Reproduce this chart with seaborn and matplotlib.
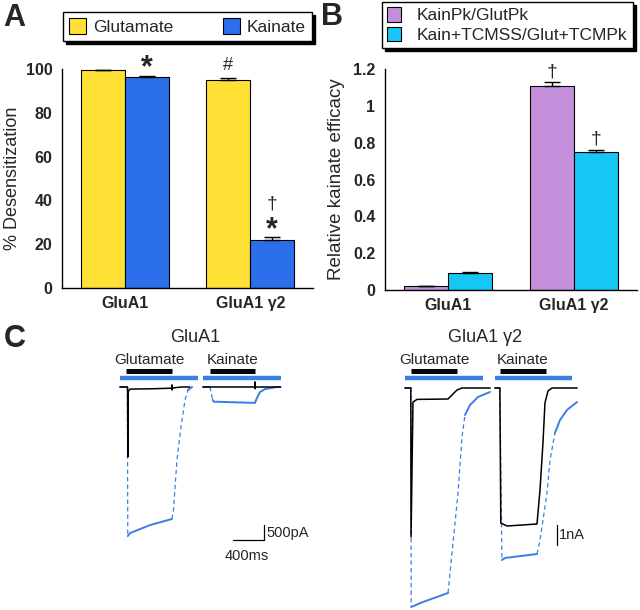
import numpy as np
import pandas as pd
import matplotlib
matplotlib.use("Agg")
import matplotlib.pyplot as plt
import seaborn as sns

# ---- panel A: % desensitization ----
groups = ["GluA1", "GluA1 γ2"]
agonists = ["Glutamate", "Kainate"]
desens_glut = [99.5, 95.0]
desens_glut_err = [0.2, 0.8]
desens_kain = [96.4, 22.0]
desens_kain_err = [0.4, 1.5]

# ---- panel B: relative kainate efficacy ----
ratios = ["KainPk/GlutPk", "Kain+TCMSS/Glut+TCMPk"]
eff_peak = [0.02, 1.105]
eff_peak_err = [0.004, 0.025]
eff_ss = [0.095, 0.75]
eff_ss_err = [0.004, 0.01]

# ---- panel C: current traces (time ms, current pA) ----
# GluA1, glutamate sweep
a1_glu_t_k = [0, 98, 101, 106, 130, 400, 668, 670, 672, 674, 720, 800, 900]
a1_glu_i_k = [0, 0, -2330, -150, -70, -60, -40, 70, -100, -40, -20, 0, 0]
a1_glu_t_b = [0, 95, 100, 130, 390, 670, 690, 735, 787, 839, 877, 930]
a1_glu_i_b = [0, 0, -4970, -4870, -4600, -4400, -4100, -2430, -1330, -430, -100, 0]
# GluA1, kainate sweep
a1_kai_t_k = [0, 668, 670, 672, 674, 1000]
a1_kai_i_k = [0, 0, 170, -60, 0, 0]
a1_kai_t_b = [0, 90, 125, 140, 670, 695, 735, 800, 950, 1000]
a1_kai_i_b = [0, 0, -430, -490, -530, -370, -170, -70, 0, 0]
# GluA1 g2, glutamate sweep
g2_glu_t_k = [0, 75, 78, 103, 155, 555, 606, 671, 735, 1100]
g2_glu_i_k = [0, 0, -7450, -700, -570, -550, -350, -100, 0, 0]
g2_glu_t_b = [0, 75, 80, 232, 555, 684, 735, 774, 839, 942, 1097]
g2_glu_i_b = [0, 0, -10950, -10700, -10250, -5250, -2450, -1350, -850, -450, -200]
# GluA1 g2, kainate sweep
g2_kai_t_k = [0, 63, 75, 155, 542, 581, 619, 645, 684, 735, 1060]
g2_kai_i_k = [0, 0, -6750, -6900, -6800, -5100, -2750, -750, -150, 0, 0]
g2_kai_t_b = [0, 63, 90, 129, 542, 581, 645, 671, 710, 774, 839, 929, 1058]
g2_kai_i_b = [0, 0, -8600, -8500, -8300, -7600, -5950, -5250, -3600, -2250, -1600, -1100, -700]

# drug application times (ms): blue = TCM, black = agonist
a1_glu_app = [(0, 1000), (77, 671)]
a1_kai_app = [(0, 1006), (90, 670)]
g2_glu_app = [(0, 1006), (77, 671)]
g2_kai_app = [(0, 994), (65, 658)]

YELLOW = "#FFE135"
BLUE = "#2B6FEB"
PURPLE = "#C490DC"
CYAN = "#16C6F4"
TRACE_BLUE = "#3A7FE6"

sns.set_style("white")
plt.rcParams["font.family"] = ["Liberation Sans", "DejaVu Sans"]

W, H = 640, 610
fig = plt.figure(figsize=(6.4, 6.1), dpi=100)


def px_axes(left, top, right, bottom):
    return fig.add_axes([left / W, 1 - bottom / H, (right - left) / W, (bottom - top) / H])


def bar_panel(ax, values, errs, hues, colors, ylim, yticks):
    df = pd.DataFrame({
        "group": groups * 2,
        "hue": [hues[0]] * 2 + [hues[1]] * 2,
        "value": values[0] + values[1],
    })
    sns.barplot(df, x="group", y="value", hue="hue", palette=colors, saturation=1,
                width=0.7, edgecolor="black", linewidth=0.8, ax=ax)
    for cont, err in zip(ax.containers, errs):
        for bar, e in zip(cont, err):
            xc = bar.get_x() + bar.get_width() / 2
            ax.errorbar(xc, bar.get_height(), yerr=[[0], [e]], color="black",
                        capsize=5.5, elinewidth=1, capthick=1, zorder=3)
    ax.set_xlim(-0.5, 1.5)
    ax.set_ylim(*ylim)
    ax.set_yticks(yticks)
    ax.set_yticklabels([f"{v:g}" for v in yticks])
    ax.set_xticks([0.5, 1.5], minor=True)
    ax.tick_params(axis="x", which="major", length=0, pad=6, labelsize=11.5)
    ax.tick_params(axis="x", which="minor", direction="in", length=5, width=1)
    ax.tick_params(axis="y", direction="out", length=5, width=1, labelsize=11.5, pad=2)
    for lab in ax.get_xticklabels() + ax.get_yticklabels():
        lab.set_fontweight("bold")
    ax.set_xlabel("")
    sns.despine(ax=ax)
    for s in ("left", "bottom"):
        ax.spines[s].set_linewidth(1)
        ax.spines[s].set_color("black")


def mark(ax, cont_idx, bar_idx, err, text, dy, size, weight="normal"):
    bar = ax.containers[cont_idx][bar_idx]
    xc = bar.get_x() + bar.get_width() / 2
    ax.annotate(text, (xc, bar.get_height() + err), xytext=(0, dy),
                textcoords="offset points", ha="center", va="baseline",
                fontsize=size, fontweight=weight)


shadow = {"ox": 2.2, "oy": -2.2, "color": "black", "alpha": 1}

# ---- A ----
axA = px_axes(62, 69, 313, 288)
bar_panel(axA, [desens_glut, desens_kain], [desens_glut_err, desens_kain_err],
          agonists, [YELLOW, BLUE], (0, 100), [0, 20, 40, 60, 80, 100])
axA.set_ylabel("% Desensitization", fontsize=13)
axA.yaxis.set_label_coords(-0.163, 0.5)
mark(axA, 1, 0, desens_kain_err[0], "*", 0, 22, "bold")
mark(axA, 0, 1, desens_glut_err[1], "#", 6, 13)
mark(axA, 1, 1, desens_kain_err[1], "*", -1, 22, "bold")
mark(axA, 1, 1, desens_kain_err[1], "†", 20, 14)
sns.move_legend(axA, loc="lower left", bbox_to_anchor=(63 / W, 1 - 41 / H, 249 / W, 29 / H),
                bbox_transform=fig.transFigure, ncol=2, mode="expand", title=None,
                frameon=True, fancybox=False, shadow=shadow, fontsize=12.5,
                handlelength=1.0, handleheight=1.0, handletextpad=0.4,
                borderpad=0.35, borderaxespad=0, framealpha=1, edgecolor="black")
axA.get_legend().get_frame().set_linewidth(1.0)

# ---- B ----
axB = px_axes(385, 69, 637, 290)
bar_panel(axB, [eff_peak, eff_ss], [eff_peak_err, eff_ss_err],
          ratios, [PURPLE, CYAN], (0, 1.2), [0, 0.2, 0.4, 0.6, 0.8, 1.0, 1.2])
axB.set_ylabel("Relative kainate efficacy", fontsize=13.5)
axB.yaxis.set_label_coords(-0.16, 0.5)
mark(axB, 0, 1, eff_peak_err[1], "†", 4, 14)
mark(axB, 1, 1, eff_ss_err[1], "†", 5, 14)
sns.move_legend(axB, loc="upper left", bbox_to_anchor=(382 / W, 1 - 2 / H),
                bbox_transform=fig.transFigure, ncol=1, title=None,
                frameon=True, fancybox=False, shadow=shadow, fontsize=12.5,
                handlelength=0.8, handleheight=0.9, handletextpad=0.9,
                borderpad=0.3, labelspacing=0.2, borderaxespad=0,
                framealpha=1, edgecolor="black")
axB.get_legend().get_frame().set_linewidth(1.0)

# panel letters
fig.text(3 / W, 1 - 26 / H, "A", fontsize=22, fontweight="bold", va="baseline")
fig.text(321 / W, 1 - 25 / H, "B", fontsize=22, fontweight="bold", va="baseline")
fig.text(4 / W, 1 - 347 / H, "C", fontsize=22, fontweight="bold", va="baseline")


# ---- C: traces ----
MS_PX = 31 / 400.0  # pixels per ms


def trace_axes(box, t0_px, base_px, pa_px):
    left, top, right, bottom = box
    ax = px_axes(left, top, right, bottom)
    ax.set_xlim((left - t0_px) / MS_PX, (right - t0_px) / MS_PX)
    ax.set_ylim((base_px - bottom) / pa_px, (base_px - top) / pa_px)
    ax.axis("off")
    ax._base_px, ax._pa_px = base_px, pa_px
    return ax


def y_at(ax, px):
    return (ax._base_px - px) / ax._pa_px


def plot_blue(ax, t, i, offset):
    t = np.asarray(t, float) + offset
    i = np.asarray(i, float)
    slope = np.abs(np.diff(i) / np.diff(t)) * ax._pa_px / MS_PX
    fast = slope > 3
    start = 0
    for k in range(1, len(fast) + 1):
        if k == len(fast) or fast[k] != fast[start]:
            if fast[start]:
                ax.plot(t[start:k + 1], i[start:k + 1], color=TRACE_BLUE, lw=0.9,
                        ls=(0, (3.5, 2.5)), solid_capstyle="butt")
            else:
                ax.plot(t[start:k + 1], i[start:k + 1], color=TRACE_BLUE, lw=1.4)
            start = k


def sweep(ax, offset, app, tk, ik, tb, ib, label):
    plot_blue(ax, tb, ib, offset)
    ax.plot(np.asarray(tk) + offset, ik, color="black", lw=1.1)
    (b0, b1), (k0, k1) = app
    ax.plot([offset + b0, offset + b1], [y_at(ax, 378)] * 2, color=TRACE_BLUE, lw=3.2,
            solid_capstyle="butt")
    ax.plot([offset + k0, offset + k1], [y_at(ax, 371)] * 2, color="black", lw=3.6,
            solid_capstyle="butt")
    ax.text(offset + (k0 + k1) / 2, y_at(ax, 360), label, ha="center", va="center",
            fontsize=11)


axC1 = trace_axes((100, 320, 310, 610), 120, 387, 0.03)
sweep(axC1, 0, a1_glu_app, a1_glu_t_k, a1_glu_i_k, a1_glu_t_b, a1_glu_i_b, "Glutamate")
sweep(axC1, 1071, a1_kai_app, a1_kai_t_k, a1_kai_i_k, a1_kai_t_b, a1_kai_i_b, "Kainate")
axC1.text((195 - 120) / MS_PX, y_at(axC1, 337), "GluA1", ha="center", va="center", fontsize=13)
# scale bars 400 ms / 500 pA
sx, sy = (264 - 120) / MS_PX, y_at(axC1, 540)
axC1.plot([sx - 400, sx, sx], [sy, sy, sy + 500], color="black", lw=0.9)
axC1.text(sx + 30, sy + 250, "500pA", ha="left", va="center", fontsize=10.5)
axC1.text(sx - 220, y_at(axC1, 556), "400ms", ha="center", va="center", fontsize=10.5)

axC2 = trace_axes((390, 320, 640, 610), 405, 388, 0.02)
sweep(axC2, 0, g2_glu_app, g2_glu_t_k, g2_glu_i_k, g2_glu_t_b, g2_glu_i_b, "Glutamate")
sweep(axC2, 1161, g2_kai_app, g2_kai_t_k, g2_kai_i_k, g2_kai_t_b, g2_kai_i_b, "Kainate")
axC2.text((485 - 405) / MS_PX, y_at(axC2, 337), "GluA1 γ2", ha="center", va="center",
          fontsize=13)
# scale bar 1 nA
sx, sy = (557 - 405) / MS_PX, y_at(axC2, 545)
axC2.plot([sx, sx], [sy, sy + 1000], color="black", lw=0.9)
axC2.text(sx + 30, sy + 500, "1nA", ha="left", va="center", fontsize=10.5)

fig.savefig("out.png", dpi=100)
